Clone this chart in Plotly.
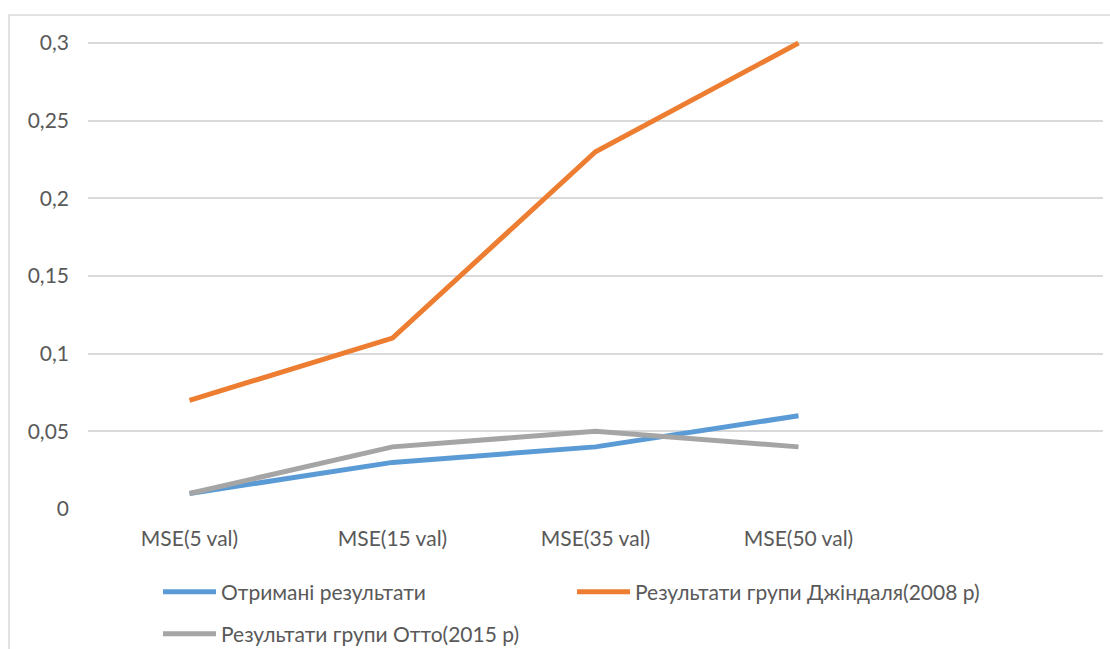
import plotly.graph_objects as go

categories = ["MSE(5 val)", "MSE(15 val)", "MSE(35 val)", "MSE(50 val)", ""]
obtained = [0.01, 0.03, 0.04, 0.06]
jindal_2008 = [0.07, 0.11, 0.23, 0.30]
otto_2015 = [0.01, 0.04, 0.05, 0.04]
y_ticks = [0, 0.05, 0.1, 0.15, 0.2, 0.25, 0.3]
y_tick_text = ["0", "0,05", "0,1", "0,15", "0,2", "0,25", "0,3"]

FONT = "Lato"
FONT_SIZE = 21
TEXT_COLOR = "#595959"

W, H = 1110, 649
ML, MR, MT, MB = 88, 7, 41, 140

x_idx = list(range(len(categories)))

# one legend per entry so each can sit where the Excel-style layout puts it
series = [
    ("Отримані результати", obtained, "#5B9BD5", "legend", 158, 592),
    ("Результати групи Джіндаля(2008 р)", jindal_2008, "#ED7D31", "legend2", 572, 592),
    ("Результати групи Отто(2015 р)", otto_2015, "#A5A5A5", "legend3", 158, 634),
]

fig = go.Figure()
legend_layouts = {}
for name, vals, color, leg, lx, ly in series:
    fig.add_trace(go.Scatter(
        x=x_idx[:len(vals)], y=vals, name=name, mode="lines",
        line=dict(color=color, width=5),
        legend=leg, showlegend=True,
    ))
    legend_layouts[leg] = dict(
        orientation="h", xref="container", yref="container",
        x=lx / W, y=1 - ly / H,
        xanchor="left", yanchor="middle",
        font=dict(family=FONT, size=FONT_SIZE, color=TEXT_COLOR),
        itemwidth=53,
        bgcolor="rgba(0,0,0,0)",
    )

# plot area spans 0..0.3 plus a hair so the 0.3 line is not clipped
y_top = 0.3 + 0.3 * 2 / (H - MT - MB - 2)

fig.update_layout(
    width=W, height=H,
    showlegend=True,
    margin=dict(l=ML, r=MR, t=MT, b=MB),
    paper_bgcolor="white", plot_bgcolor="white",
    font=dict(family=FONT, size=FONT_SIZE, color=TEXT_COLOR),
    xaxis=dict(
        range=[-0.5, len(categories) - 0.5],
        tickvals=x_idx, ticktext=categories,
        showgrid=False, zeroline=False, showline=False, ticks="",
        ticklabelstandoff=15,
        tickfont=dict(family=FONT, size=FONT_SIZE, color=TEXT_COLOR),
    ),
    yaxis=dict(
        range=[0, y_top],
        tickvals=y_ticks, ticktext=y_tick_text,
        showgrid=True, gridcolor="#D9D9D9", gridwidth=2,
        zeroline=False, showline=False, ticks="",
        ticklabelstandoff=18,
        tickfont=dict(family=FONT, size=FONT_SIZE, color=TEXT_COLOR),
    ),
    shapes=[dict(
        type="rect", xref="paper", yref="paper",
        x0=(9 - ML) / (W - ML - MR), x1=(W + 5 - ML) / (W - ML - MR),
        y0=-(H + 5 - (H - MB)) / (H - MT - MB), y1=1 + (MT - 15) / (H - MT - MB),
        line=dict(color="#D9D9D9", width=1.5), layer="below",
    )],
    **legend_layouts,
)

fig.write_html("out.html")
